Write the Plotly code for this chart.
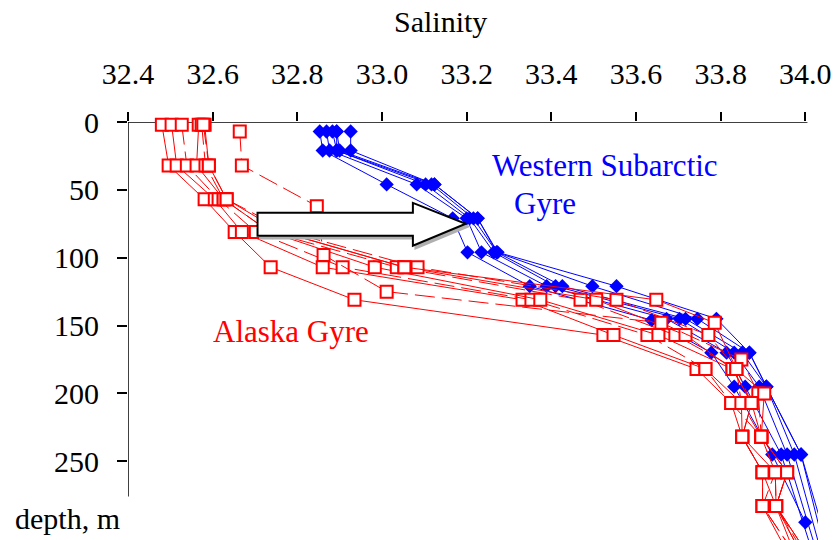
import plotly.graph_objects as go

# ---------------- data ----------------
sal_ticks = [32.4, 32.6, 32.8, 33.0, 33.2, 33.4, 33.6, 33.8, 34.0]
sal_tick_labels = ["32.4", "32.6", "32.8", "33.0", "33.2", "33.4", "33.6", "33.8", "34.0"]
depth_ticks = [0, 50, 100, 150, 200, 250]

# Western Subarctic Gyre profiles (depth m, salinity)
blue_depth_a = [7, 21, 46, 71, 96, 121, 146, 170, 195, 245, 295]
blue_depth_b = [7, 21, 46, 71, 96, 121, 145, 170, 195, 245, 320]
wsg_1 = [32.853, 32.860, 33.011, 33.167, 33.202, 33.349, 33.637, 33.778, 33.832, 33.922, 34.000]
wsg_2 = [32.869, 32.876, 33.082, 33.200, 33.235, 33.389, 33.672, 33.814, 33.858, 33.943, 34.020]
wsg_3 = [32.883, 32.893, 33.103, 33.207, 33.264, 33.410, 33.703, 33.832, 33.891, 33.957, 34.030]
wsg_4 = [32.893, 32.893, 33.117, 33.216, 33.271, 33.426, 33.717, 33.851, 33.908, 33.974, 34.040]
wsg_5 = [32.893, 32.900, 33.124, 33.226, 33.271, 33.497, 33.745, 33.868, 33.908, 33.990, 34.050]
wsg_6 = [32.926, 32.926, 33.124, 33.226, 33.273, 33.554, 33.790, 33.868, 33.908, 33.990, 34.060]

# Alaska Gyre profiles
red_depth = [2, 32, 57, 81, 107, 131, 157, 182, 207, 232, 258, 283, 330]
ag_1 = [32.480, 32.496, 32.581, 32.652, 32.737, 32.935, 33.523, 33.743, 33.825, 33.851, 33.899, 33.899, 33.980]
ag_2 = [32.503, 32.515, 32.605, 32.669, 32.860, 33.332, 33.547, 33.764, 33.849, 33.851, 33.899, 33.931, 33.990]
ag_3 = [32.527, 32.539, 32.614, 32.702, 32.907, 33.353, 33.627, 33.764, 33.825, 33.896, 33.929, 33.899, 34.000]
ag_4 = [32.567, 32.562, 32.626, 32.735, 32.983, 33.374, 33.653, 33.828, 33.873, 33.851, 33.929, 33.931, 34.010]
ag_5 = [32.574, 32.583, 32.626, 32.735, 33.035, 33.469, 33.693, 33.837, 33.849, 33.896, 33.957, 33.931, 34.020]
ag_6 = [32.581, 32.591, 32.633, 32.763, 33.053, 33.506, 33.717, 33.828, 33.873, 33.896, 33.957, 33.931, 34.030]
ag_8 = [32.578, 32.591, 32.633, 32.780, 33.084, 33.554, 33.771, 33.837, 33.873, 33.851, 33.899, 33.899, 34.000]
ag_7_depth = [7, 32, 62, 98, 125, 148, 175, 200, 232, 258, 283, 330]
ag_7 = [32.664, 32.669, 32.846, 32.862, 33.011, 33.660, 33.849, 33.889, 33.896, 33.929, 33.931, 34.010]
ag_9_depth = [81, 107, 131, 148, 182, 200, 232, 258, 283, 330]
ag_9 = [32.763, 33.053, 33.648, 33.786, 33.837, 33.903, 33.896, 33.957, 33.931, 34.030]

# arrow outline (salinity, depth)
arrow_x = [32.706, 33.073, 33.073, 33.198, 33.073, 33.073, 32.706]
arrow_y = [66.9, 66.9, 59.6, 75.0, 91.2, 83.8, 83.8]

# ---------------- figure ----------------
FONT = "Liberation Serif, Times New Roman, serif"
BLUE = "#0000FF"
RED = "#FF0000"

fig = go.Figure()

blue_sets = [(blue_depth_a, wsg_1), (blue_depth_b, wsg_2), (blue_depth_b, wsg_3),
             (blue_depth_b, wsg_4), (blue_depth_b, wsg_5), (blue_depth_b, wsg_6)]
for d, s in blue_sets:
    fig.add_trace(go.Scatter(
        x=s, y=d, mode="lines+markers", cliponaxis=False,
        line=dict(color=BLUE, width=1),
        marker=dict(symbol="diamond", size=11, color=BLUE, line=dict(width=0)),
        showlegend=False, hoverinfo="skip"))

red_sets = [(red_depth, ag_1, "solid"), (red_depth, ag_2, "solid"), (red_depth, ag_3, "20px,7px"),
            (red_depth, ag_4, "solid"), (red_depth, ag_5, "20px,7px"), (red_depth, ag_6, "solid"),
            (ag_7_depth, ag_7, "20px,7px"), (red_depth, ag_8, "20px,7px"), (ag_9_depth, ag_9, "solid")]
for d, s, dash in red_sets:
    fig.add_trace(go.Scatter(
        x=s, y=d, mode="lines+markers", cliponaxis=False,
        line=dict(color=RED, width=1, dash=dash),
        marker=dict(symbol="square", size=12, color="white", line=dict(color=RED, width=2)),
        showlegend=False, hoverinfo="skip"))

# arrow: shadow + outline
def path_from(xs, ys, dx=0.0, dy=0.0):
    p = "M " + " L ".join(f"{x+dx},{y+dy}" for x, y in zip(xs, ys)) + " Z"
    return p

fig.add_shape(type="path", xref="x", yref="y", path=path_from(arrow_x, arrow_y, 0.006, 2.0),
              fillcolor="#b0b0b0", line=dict(color="#b0b0b0", width=2), layer="above")
fig.add_shape(type="path", xref="x", yref="y", path=path_from(arrow_x, arrow_y),
              fillcolor="white", line=dict(color="black", width=2), layer="above")

# axis lines
fig.add_shape(type="line", xref="x", yref="y", x0=32.4, x1=34.005, y0=0, y1=0,
              line=dict(color="black", width=1.5), layer="below")
fig.add_shape(type="line", xref="x", yref="y", x0=32.4, x1=32.4, y0=0, y1=276,
              line=dict(color="black", width=1.5), layer="below")

# text annotations
fig.add_annotation(text="Salinity", xref="x", yref="paper", x=33.138, y=1.2416,
                   xanchor="center", yanchor="middle", showarrow=False,
                   font=dict(family=FONT, size=30, color="black"))
fig.add_annotation(text="depth, m", xref="paper", yref="paper", x=-0.1667, y=0.0526,
                   xanchor="left", yanchor="middle", showarrow=False,
                   font=dict(family=FONT, size=30, color="black"))
fig.add_annotation(text="Western Subarctic", xref="x", yref="y", x=33.256, y=32.0,
                   xanchor="left", yanchor="middle", showarrow=False,
                   font=dict(family=FONT, size=31, color=BLUE))
fig.add_annotation(text="Gyre", xref="x", yref="y", x=33.308, y=60.0,
                   xanchor="left", yanchor="middle", showarrow=False,
                   font=dict(family=FONT, size=31, color=BLUE))
fig.add_annotation(text="Alaska Gyre", xref="x", yref="y", x=32.596, y=154.0,
                   xanchor="left", yanchor="middle", showarrow=False,
                   font=dict(family=FONT, size=31, color=RED))

fig.update_layout(
    width=837, height=540,
    margin=dict(l=128, r=19, t=122, b=0),
    paper_bgcolor="white", plot_bgcolor="white",
    xaxis=dict(side="top", range=[32.4, 34.03], tickvals=sal_ticks, ticktext=sal_tick_labels,
               showgrid=False, zeroline=False, showline=False,
               ticks="outside", ticklen=9, tickwidth=1.5, tickcolor="black",
               ticklabelstandoff=16,
               tickfont=dict(family=FONT, size=30, color="black")),
    yaxis=dict(range=[308, 0], tickvals=depth_ticks,
               showgrid=False, zeroline=False, showline=False,
               ticks="outside", ticklen=10, tickwidth=1.5, tickcolor="black",
               ticklabelstandoff=12,
               tickfont=dict(family=FONT, size=30, color="black")),
)

fig.write_html("out.html")
